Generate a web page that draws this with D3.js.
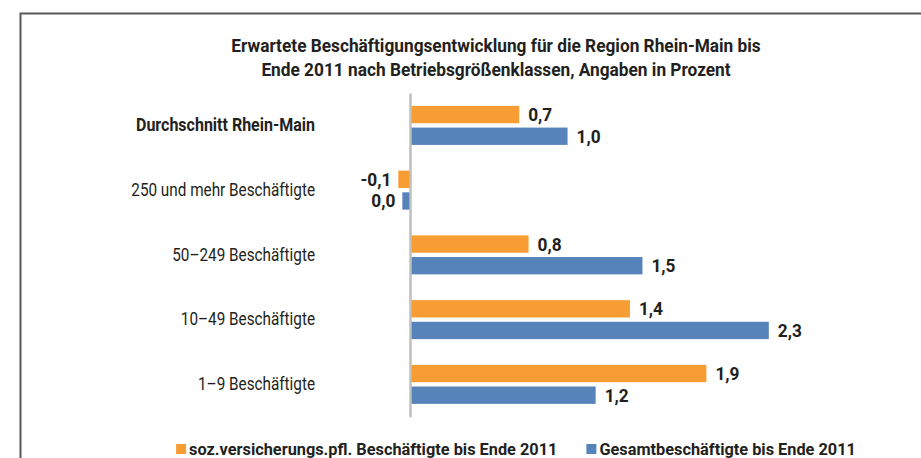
<!DOCTYPE html>
<html><head><meta charset="utf-8">
<script src="https://cdn.jsdelivr.net/npm/d3@7"></script>
<style>html,body{margin:0;padding:0;background:#fff;} svg{display:block;}</style>
</head><body>
<script>
// ---- data ----
const categories = ["Durchschnitt Rhein-Main", "250 und mehr Beschäftigte", "50–249 Beschäftigte", "10–49 Beschäftigte", "1–9 Beschäftigte"];
const seriesNames = ["soz.versicherungs.pfl. Beschäftigte bis Ende 2011", "Gesamtbeschäftigte bis Ende 2011"];
const sozValues = [0.70, -0.075, 0.76, 1.41, 1.90];
const gesamtValues = [1.01, -0.049, 1.49, 2.30, 1.19];
const titleLines = ["Erwartete Beschäftigungsentwicklung für die Region Rhein-Main bis", "Ende 2011 nach Betriebsgrößenklassen, Angaben in Prozent"];
const seriesColors = ["#F89D33", "#5583BA"];

// ---- setup ----
const W = 921, H = 458, K = 0.85, KB = 0.96, KC = 0.89;
const FONT = "Roboto, 'Noto Sans', sans-serif";
const TXT = "#231F20";
const svg = d3.select("body").append("svg").attr("width", W).attr("height", H)
  .style("font-family", FONT);

svg.append("path").attr("d", "M20.5,470 V13.5 H930")
  .attr("fill", "none").attr("stroke", "#595959").attr("stroke-width", 2);

const x = d3.scaleLinear().domain([0, 1]).range([410, 566]);
const y = d3.scaleBand().domain(categories).range([93, 416.7]);
const ySub = d3.scaleBand().domain(seriesNames).range([12.9, 51.9]).paddingInner(0.2);
const fmt = v => d3.format(".1f")(v).replace(".", ",").replace("\u2212", "-");

function label(parent, px, py, str, size, weight, anchor, k) {
  const g = parent.append("g").attr("transform", `translate(${px},${py}) scale(${k},1)`);
  return g.append("text").text(str).attr("text-anchor", anchor)
    .attr("font-size", size).attr("font-weight", weight).attr("fill", TXT);
}

// title
titleLines.forEach((t, i) => label(svg, 496, 52 + i * 24, t, 18, "bold", "middle", KB));

// bars
const rows = categories.map((c, i) => ({ cat: c, vals: [sozValues[i], gesamtValues[i]] }));
const gRows = svg.selectAll("g.row").data(rows).join("g").attr("class", "row")
  .attr("transform", d => `translate(0,${y(d.cat)})`);
gRows.each(function (d) {
  const g = d3.select(this);
  d.vals.forEach((v, j) => {
    const yy = ySub(seriesNames[j]);
    g.append("rect")
      .attr("x", Math.min(x(0), x(v))).attr("y", yy)
      .attr("width", Math.abs(x(v) - x(0))).attr("height", ySub.bandwidth())
      .attr("fill", seriesColors[j]);
    const pos = v >= 0;
    label(g, pos ? x(v) + 9 : x(v) - 7, yy + ySub.bandwidth() / 2 + 6.5, fmt(v), 18, "bold", pos ? "start" : "end", KB);
  });
});

// category axis
const axis = svg.append("g").attr("transform", `translate(${x(0)},0)`)
  .call(d3.axisLeft(y).tickSize(0).tickSizeOuter(0).tickPadding(0));
axis.select(".domain").attr("stroke", "#BFBFBF").attr("stroke-width", 2.5);
axis.selectAll(".tick text")
  .attr("x", (d, i) => -95 / (i === 0 ? KC : K))
  .attr("transform", (d, i) => `scale(${i === 0 ? KC : K},1)`)
  .attr("font-size", 18).attr("font-family", FONT).attr("fill", TXT)
  .attr("font-weight", (d, i) => i === 0 ? "bold" : "normal");

// legend
const leg = svg.append("g");
let cx = 0;
seriesNames.forEach((n, i) => {
  const it = leg.append("g").attr("transform", `translate(${cx},0)`);
  it.append("rect").attr("x", 0).attr("y", -11).attr("width", 10).attr("height", 10).attr("fill", seriesColors[i]);
  const t = label(it, 13, 0, n, 17, "bold", "start", KB);
  const w = t.node().getComputedTextLength() * KB;
  cx += 13 + w + 29;
});
const legW = cx - 29;
leg.attr("transform", `translate(${516 - legW / 2},455)`);
</script>
</body></html>
